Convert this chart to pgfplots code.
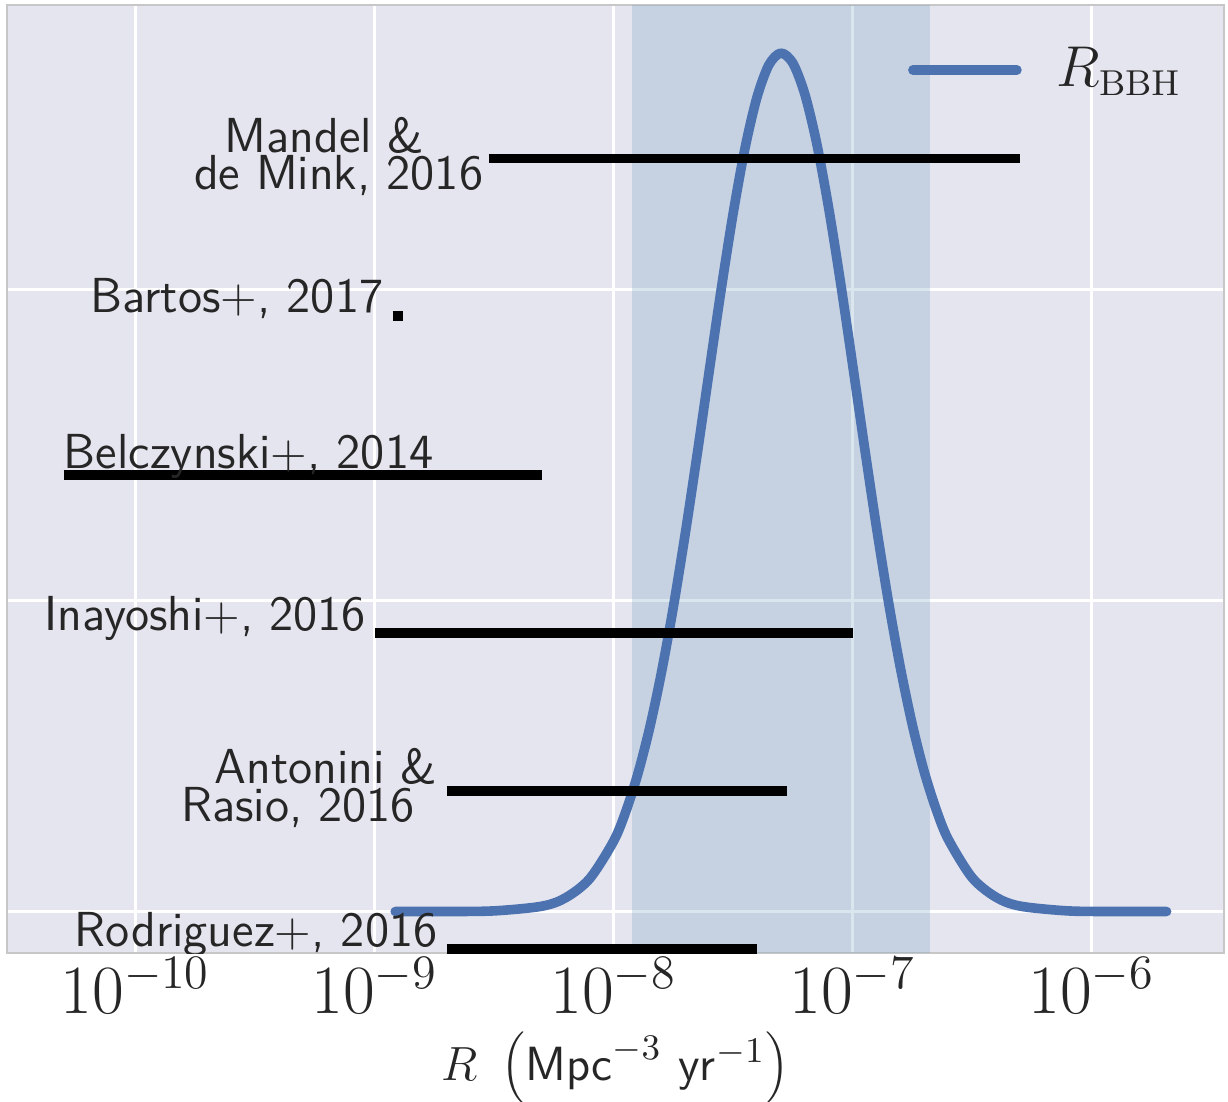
\documentclass[border=0pt]{standalone}
\usepackage{pgfplots}
\pgfplotsset{compat=1.18}

\definecolor{bgc}{HTML}{E5E5EF}
\definecolor{sbblue}{HTML}{4C72B0}
\definecolor{bandc}{HTML}{4A86AE}
\definecolor{txt}{HTML}{262626}

% Log-normal rate posterior, p(ln R)
\pgfplotstableread{
R        p
1.22e-9  0.0000
1.995e-9 0.0000
3.162e-9 0.0004
5.012e-9 0.0034
6.310e-9 0.0089
7.943e-9 0.0211
1.000e-8 0.0452
1.122e-8 0.0638
1.259e-8 0.0877
1.413e-8 0.1175
1.585e-8 0.1535
1.778e-8 0.1956
1.995e-8 0.2430
2.239e-8 0.2943
2.512e-8 0.3474
2.818e-8 0.3998
3.162e-8 0.4487
3.548e-8 0.4909
3.981e-8 0.5236
4.467e-8 0.5445
5.012e-8 0.5520
5.623e-8 0.5456
6.310e-8 0.5257
7.079e-8 0.4939
7.943e-8 0.4524
8.913e-8 0.4040
1.000e-7 0.3517
1.122e-7 0.2985
1.259e-7 0.2470
1.413e-7 0.1992
1.585e-7 0.1567
1.778e-7 0.1201
1.995e-7 0.0898
2.239e-7 0.0655
2.512e-7 0.0465
3.162e-7 0.0218
3.981e-7 0.0092
5.012e-7 0.0035
7.943e-7 0.0004
1.259e-6 0.0000
2.06e-6  0.0000
}\ratepdf

\begin{document}
\begin{tikzpicture}
\begin{axis}[
  name=main,
  scale only axis, width=304.25pt, height=237pt,
  xmode=log, log basis x=10,
  xmin=2.897e-11, xmax=3.581e-6,
  ymin=-0.02669, ymax=0.58296,
  xtick={1e-10,1e-9,1e-8,1e-7,1e-6},
  ytick={0,0.2,0.4}, yticklabels={},
  tick style={draw=none},
  minor tick length=0pt, major tick length=0pt,
  grid=major,
  major grid style={white, line width=0.6pt},
  axis background/.style={fill=bgc},
  axis line style={draw=black!22, line width=0.4pt},
  xticklabel style={font=\fontsize{18.5}{22}\selectfont, text=txt, inner sep=0pt, anchor=north, yshift=-1pt},
  xlabel={$R\ \left(\mathsf{Mpc}^{-3}\ \mathsf{yr}^{-1}\right)$},
  xlabel style={at={(axis description cs:0.5,0)}, anchor=base, yshift=-31.75pt, inner sep=0pt, text=txt, font=\fontsize{12.5}{15}\selectfont},
  legend style={draw=none, fill=none, at={(rel axis cs:0.9655,0.9314)}, anchor=east,
    font=\fontsize{13.5}{16}\selectfont, text=txt, inner sep=0pt,
    nodes={inner sep=0pt}, column sep=8.6pt},
  legend image code/.code={\draw[#1, line cap=round] (0pt,0pt) -- (26pt,0pt);},
]
% 95% credible interval
\addplot[draw=none, fill=bandc, fill opacity=0.2, forget plot]
  coordinates {(1.191e-8,-0.02669) (2.109e-7,-0.02669) (2.109e-7,0.58296) (1.191e-8,0.58296)} -- cycle;

\addplot[sbblue, line width=2.4pt, line cap=round, line join=round, smooth] table[x=R, y=p] {\ratepdf};
\addlegendentry{$R_{\mathrm{BBH}}$}

% Model predictions
\pgfplotsset{every axis plot/.append style={forget plot}}
\addplot[black, line width=2.35pt] coordinates {(3e-9,0.4844) (5e-7,0.4844)};
\addplot[black, line width=2.35pt] coordinates {(1.191e-9,0.3830) (1.312e-9,0.3830)};
\addplot[black, line width=2.35pt] coordinates {(5e-11,0.2807) (5e-9,0.2807)};
\addplot[black, line width=2.35pt] coordinates {(1e-9,0.1792) (1e-7,0.1792)};
\addplot[black, line width=2.35pt] coordinates {(2e-9,0.0775) (5.3e-8,0.0775)};
\addplot[black, line width=2.35pt] coordinates {(2e-9,-0.0241) (4e-8,-0.0241)};

\begin{scope}[every node/.style={anchor=base east, inner sep=0pt, text=txt, font=\fontsize{12.3}{14}\sffamily}]
\node at (axis cs:1.626e-9,0.4884) {Mandel \&};
\node at (axis cs:2.87e-9,0.4640) {de Mink, 2016};
\node at (axis cs:1.096e-9,0.3849) {Bartos$+$, 2017};
\node at (axis cs:1.774e-9,0.2852) {Belczynski$+$, 2014};
\node at (axis cs:9.29e-10,0.1810) {Inayoshi$+$, 2016};
\node at (axis cs:1.845e-9,0.0826) {Antonini \&};
\node at (axis cs:1.489e-9,0.0576) {Rasio, 2016};
\node at (axis cs:1.845e-9,-0.0228) {Rodriguez$+$, 2016};
\end{scope}
\end{axis}
\pgfresetboundingbox
\path[use as bounding box] ([shift={(-1.75pt,-37pt)}]main.south west) rectangle ([shift={(1pt,1.25pt)}]main.north east);
\end{tikzpicture}
\end{document}
